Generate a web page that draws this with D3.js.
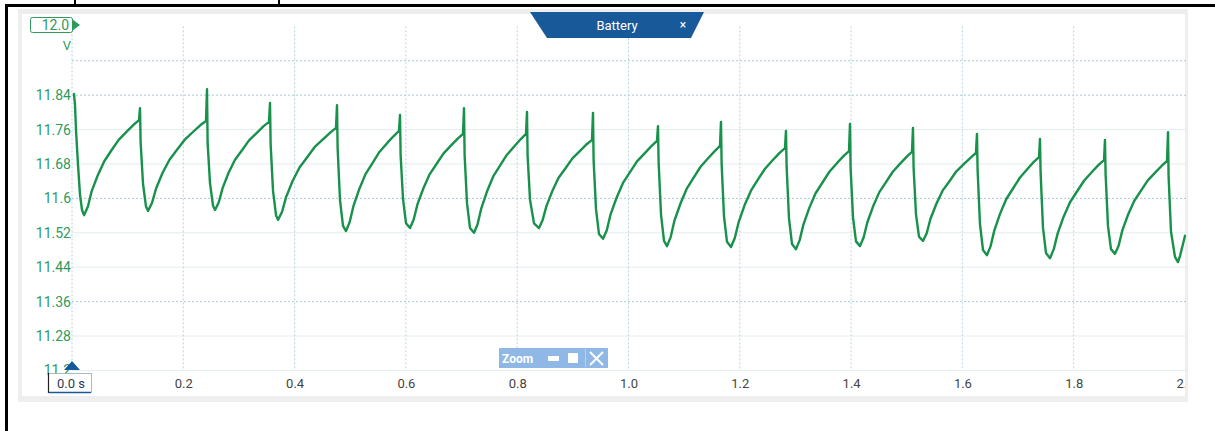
<!DOCTYPE html>
<html>
<head>
<meta charset="utf-8">
<script src="https://cdn.jsdelivr.net/npm/d3@7"></script>
<style>
  html, body { margin: 0; padding: 0; background: #fff; overflow: hidden; }
  svg { display: block; }
</style>
</head>
<body>
<svg id="scope" width="1215" height="431"></svg>
<script>
// Battery voltage capture, 0 – 2 s
const xTicks = [0.2, 0.4, 0.6, 0.8, 1.0, 1.2, 1.4, 1.6, 1.8, 2.0];
const yTicks = [11.84, 11.76, 11.68, 11.6, 11.52, 11.44, 11.36, 11.28, 11.2];
const vGrid = [0, 0.2, 0.4, 0.6, 0.8, 1.0, 1.2, 1.4, 1.6, 1.8];
const hGridDotted = [11.92, 11.84, 11.6, 11.36];
const hGridFaint = [11.76, 11.68, 11.52, 11.44, 11.28, 11.2];
const rangeTop = 12.0;
const channelName = "Battery";

// Sampled trace: time (s) and voltage (V)
const traceTime = [
  0.0036, 0.0054, 0.0072, 0.0108, 0.0144, 0.0180,
  0.0216, 0.0286, 0.0354, 0.0464, 0.0582, 0.0710, 0.0839, 0.0987, 0.1105, 0.1204, 0.1222, 0.1233, 0.1276, 0.1330,
  0.1366, 0.1439, 0.1511, 0.1626, 0.1752, 0.1887, 0.2022, 0.2178, 0.2304, 0.2408, 0.2426, 0.2437, 0.2480, 0.2534,
  0.2570, 0.2638, 0.2706, 0.2812, 0.2929, 0.3055, 0.3181, 0.3326, 0.3443, 0.3540, 0.3558, 0.3569, 0.3612, 0.3666,
  0.3702, 0.3775, 0.3847, 0.3962, 0.4088, 0.4223, 0.4358, 0.4514, 0.4640, 0.4744, 0.4762, 0.4773, 0.4816, 0.4870,
  0.4924, 0.4990, 0.5057, 0.5163, 0.5276, 0.5400, 0.5524, 0.5666, 0.5781, 0.5876, 0.5894, 0.5905, 0.5948, 0.6002,
  0.6074, 0.6140, 0.6207, 0.6313, 0.6426, 0.6550, 0.6674, 0.6816, 0.6931, 0.7026, 0.7044, 0.7055, 0.7098, 0.7152,
  0.7224, 0.7288, 0.7355, 0.7457, 0.7569, 0.7691, 0.7813, 0.7953, 0.8065, 0.8158, 0.8176, 0.8187, 0.8230, 0.8302,
  0.8392, 0.8458, 0.8525, 0.8631, 0.8744, 0.8868, 0.8992, 0.9134, 0.9249, 0.9344, 0.9362, 0.9373, 0.9416, 0.9470,
  0.9542, 0.9610, 0.9678, 0.9784, 0.9901, 1.0027, 1.0153, 1.0298, 1.0415, 1.0512, 1.0530, 1.0541, 1.0584, 1.0638,
  1.0692, 1.0758, 1.0825, 1.0931, 1.1044, 1.1168, 1.1292, 1.1434, 1.1549, 1.1644, 1.1662, 1.1673, 1.1716, 1.1770,
  1.1842, 1.1910, 1.1978, 1.2085, 1.2201, 1.2327, 1.2453, 1.2598, 1.2715, 1.2812, 1.2830, 1.2841, 1.2884, 1.2938,
  1.3010, 1.3076, 1.3143, 1.3249, 1.3362, 1.3486, 1.3610, 1.3752, 1.3867, 1.3962, 1.3980, 1.3991, 1.4034, 1.4088,
  1.4160, 1.4225, 1.4291, 1.4394, 1.4505, 1.4627, 1.4749, 1.4890, 1.5001, 1.5094, 1.5112, 1.5123, 1.5166, 1.5220,
  1.5292, 1.5359, 1.5425, 1.5531, 1.5644, 1.5768, 1.5892, 1.6034, 1.6149, 1.6244, 1.6262, 1.6273, 1.6316, 1.6370,
  1.6442, 1.6507, 1.6573, 1.6676, 1.6787, 1.6909, 1.7032, 1.7172, 1.7283, 1.7377, 1.7394, 1.7405, 1.7448, 1.7502,
  1.7574, 1.7642, 1.7711, 1.7817, 1.7934, 1.8059, 1.8185, 1.8331, 1.8447, 1.8545, 1.8562, 1.8573, 1.8616, 1.8670,
  1.8742, 1.8807, 1.8873, 1.8976, 1.9087, 1.9209, 1.9332, 1.9472, 1.9583, 1.9677, 1.9695, 1.9705, 1.9748, 1.9820,
  1.9874, 1.9910, 1.9964, 2.0000
];
const traceVolts = [
  11.843, 11.817, 11.759, 11.678, 11.608, 11.573,
  11.561, 11.581, 11.617, 11.654, 11.687, 11.712, 11.736, 11.756, 11.771, 11.782, 11.810, 11.731, 11.634, 11.581,
  11.571, 11.590, 11.623, 11.659, 11.690, 11.713, 11.736, 11.755, 11.770, 11.780, 11.854, 11.729, 11.635, 11.583,
  11.573, 11.591, 11.624, 11.659, 11.690, 11.712, 11.735, 11.753, 11.768, 11.778, 11.822, 11.727, 11.618, 11.561,
  11.550, 11.569, 11.603, 11.640, 11.672, 11.695, 11.719, 11.738, 11.753, 11.764, 11.817, 11.717, 11.596, 11.536,
  11.524, 11.545, 11.582, 11.622, 11.657, 11.682, 11.708, 11.729, 11.745, 11.757, 11.794, 11.701, 11.599, 11.542,
  11.531, 11.551, 11.586, 11.623, 11.656, 11.680, 11.704, 11.724, 11.739, 11.750, 11.810, 11.701, 11.589, 11.531,
  11.520, 11.540, 11.577, 11.616, 11.651, 11.676, 11.701, 11.722, 11.738, 11.750, 11.801, 11.699, 11.597, 11.542,
  11.531, 11.550, 11.582, 11.617, 11.648, 11.670, 11.693, 11.711, 11.726, 11.736, 11.799, 11.689, 11.575, 11.517,
  11.506, 11.526, 11.563, 11.601, 11.636, 11.661, 11.686, 11.706, 11.722, 11.734, 11.768, 11.685, 11.563, 11.501,
  11.489, 11.510, 11.548, 11.587, 11.622, 11.648, 11.673, 11.694, 11.710, 11.722, 11.778, 11.682, 11.558, 11.499,
  11.487, 11.508, 11.544, 11.584, 11.618, 11.644, 11.669, 11.690, 11.706, 11.717, 11.757, 11.675, 11.553, 11.494,
  11.482, 11.503, 11.539, 11.578, 11.612, 11.637, 11.662, 11.683, 11.699, 11.710, 11.773, 11.671, 11.556, 11.500,
  11.489, 11.509, 11.544, 11.581, 11.614, 11.638, 11.662, 11.682, 11.697, 11.708, 11.764, 11.671, 11.563, 11.511,
  11.501, 11.519, 11.552, 11.587, 11.618, 11.640, 11.663, 11.681, 11.695, 11.706, 11.750, 11.666, 11.540, 11.480,
  11.468, 11.489, 11.525, 11.564, 11.598, 11.623, 11.648, 11.669, 11.685, 11.696, 11.738, 11.661, 11.532, 11.473,
  11.461, 11.482, 11.518, 11.557, 11.591, 11.616, 11.641, 11.662, 11.678, 11.689, 11.736, 11.657, 11.536, 11.482,
  11.471, 11.490, 11.525, 11.562, 11.594, 11.618, 11.642, 11.661, 11.676, 11.687, 11.754, 11.652, 11.523, 11.464,
  11.452, 11.466, 11.494, 11.513
];

const svg = d3.select("#scope");
const FONT = "Roboto, 'Open Sans', sans-serif";
const GREEN = "#2f9a5c";
const TRACE = "#17914b";
const NAVY = "#18599a";

const x = d3.scaleLinear().domain([0, 2]).range([72, 1185]);
const y = d3.scaleLinear().domain([11.2, 12.0]).range([370.4, 26.4]);

// outer page frame
svg.append("rect").attr("x", 5).attr("y", 4).attr("width", 1210).attr("height", 3).attr("fill", "#000");
svg.append("rect").attr("x", 5).attr("y", 4).attr("width", 3).attr("height", 427).attr("fill", "#000");
svg.append("rect").attr("x", 74).attr("y", 0).attr("width", 2).attr("height", 4).attr("fill", "#000");
svg.append("rect").attr("x", 278).attr("y", 0).attr("width", 2).attr("height", 4).attr("fill", "#000");

// scope panel
svg.append("rect").attr("x", 18).attr("y", 9).attr("width", 1170).attr("height", 393).attr("fill", "#eeeeee");
svg.append("rect").attr("x", 22).attr("y", 14).attr("width", 1163).attr("height", 382).attr("fill", "#ffffff");

// grid
const grid = svg.append("g");
grid.selectAll("line.hf").data(hGridFaint).join("line")
  .attr("x1", x(0)).attr("x2", 1187)
  .attr("y1", d => y(d)).attr("y2", d => y(d))
  .attr("stroke", "#e4ecee").attr("stroke-width", 1);
grid.selectAll("line.hd").data(hGridDotted).join("line")
  .attr("x1", x(0)).attr("x2", 1187)
  .attr("y1", d => y(d)).attr("y2", d => y(d))
  .attr("stroke", "#a9ccd6").attr("stroke-width", 1).attr("stroke-dasharray", "2,2");
grid.selectAll("line.v").data(vGrid).join("line")
  .attr("x1", d => x(d)).attr("x2", d => x(d))
  .attr("y1", y(rangeTop)).attr("y2", y(11.2))
  .attr("stroke", "#b8d4dc").attr("stroke-width", 1).attr("stroke-dasharray", "2,2");

// y axis labels
const yAxis = d3.axisLeft(y).tickValues(yTicks).tickSize(0).tickPadding(0)
  .tickFormat(d => String(+d.toFixed(2)));
const gy = svg.append("g").attr("transform", "translate(71,0)").call(yAxis);
gy.select(".domain").remove();
gy.selectAll("text").attr("fill", GREEN).style("font-family", FONT).style("font-size", "14px");

// x axis labels, cut at the panel's right edge
svg.append("clipPath").attr("id", "xclip").append("rect")
  .attr("x", 0).attr("y", 360).attr("width", 1185).attr("height", 50);
const xAxis = d3.axisBottom(x).tickValues(xTicks).tickSize(0).tickPadding(0)
  .tickFormat(d3.format(".1f"));
const gx = svg.append("g").attr("clip-path", "url(#xclip)")
  .append("g").attr("transform", "translate(0,379)").call(xAxis);
gx.select(".domain").remove();
gx.selectAll("text").attr("fill", "#444").style("font-family", FONT).style("font-size", "13px");

// trace
svg.append("clipPath").attr("id", "plotclip").append("rect")
  .attr("x", 70).attr("y", 14).attr("width", 1116).attr("height", 382);
const points = traceTime.map((t, i) => [t, traceVolts[i]]);
svg.append("path")
  .attr("clip-path", "url(#plotclip)")
  .attr("d", d3.line().x(d => x(d[0])).y(d => y(d[1]))(points))
  .attr("fill", "none").attr("stroke", TRACE).attr("stroke-width", 2.4)
  .attr("stroke-linejoin", "round").attr("stroke-linecap", "round");

// range marker "12.0 V"
svg.append("rect").attr("x", 30.5).attr("y", 17.5).attr("width", 42).attr("height", 15).attr("rx", 2)
  .attr("fill", "#fff").attr("stroke", GREEN).attr("stroke-width", 1);
svg.append("path").attr("d", "M72,19 L80,25 L72,31 Z").attr("fill", GREEN);
svg.append("text").attr("x", 69).attr("y", 30).attr("text-anchor", "end")
  .attr("fill", GREEN).style("font-family", FONT).style("font-size", "14px").text(rangeTop.toFixed(1));
svg.append("text").attr("x", 67).attr("y", 50).attr("text-anchor", "middle")
  .attr("fill", GREEN).style("font-family", FONT).style("font-size", "13px").text("V");

// time origin marker
svg.append("path").attr("d", `M${x(0) - 8},370 L${x(0)},361 L${x(0) + 8},370 Z`).attr("fill", NAVY);
svg.append("rect").attr("x", 48.5).attr("y", 373.5).attr("width", 43).attr("height", 19)
  .attr("fill", "#fff").attr("stroke", "#9aa").attr("stroke-width", 0.8);
svg.append("line").attr("x1", 48.5).attr("x2", 48.5).attr("y1", 373).attr("y2", 393).attr("stroke", "#222").attr("stroke-width", 1.2);
svg.append("line").attr("x1", 49).attr("x2", 91).attr("y1", 392.5).attr("y2", 392.5).attr("stroke", NAVY).attr("stroke-width", 1.5);
svg.append("text").attr("x", 71).attr("y", 388).attr("text-anchor", "middle")
  .attr("fill", "#2b3a55").style("font-family", FONT).style("font-size", "13px").text("0.0 s");

// channel tab
svg.append("path").attr("d", "M530,12 L704,12 L691,38 L547,38 Z").attr("fill", NAVY);
svg.append("text").attr("x", 617).attr("y", 30).attr("text-anchor", "middle")
  .attr("fill", "#fff").style("font-family", FONT).style("font-size", "13px").text(channelName);
svg.append("text").attr("x", 683).attr("y", 29).attr("text-anchor", "middle")
  .attr("fill", "#fff").style("font-family", FONT).style("font-size", "12px").text("×");

// zoom control
const zb = svg.append("g");
zb.append("rect").attr("x", 499).attr("y", 348).attr("width", 109).attr("height", 20).attr("fill", "#8fb8e6");
zb.append("text").attr("x", 502).attr("y", 363).attr("fill", "#fff")
  .style("font-family", FONT).style("font-size", "12px").style("font-weight", "bold").text("Zoom");
zb.append("rect").attr("x", 548).attr("y", 356).attr("width", 11).attr("height", 5).attr("fill", "#fff");
zb.append("rect").attr("x", 568).attr("y", 353).attr("width", 10).attr("height", 10).attr("fill", "#fff");
zb.append("line").attr("x1", 585.5).attr("x2", 585.5).attr("y1", 349).attr("y2", 367).attr("stroke", "#b8d2ee");
zb.append("path").attr("d", "M590,352 L603,365 M603,352 L590,365")
  .attr("stroke", "#fff").attr("stroke-width", 2);
</script>
</body>
</html>
